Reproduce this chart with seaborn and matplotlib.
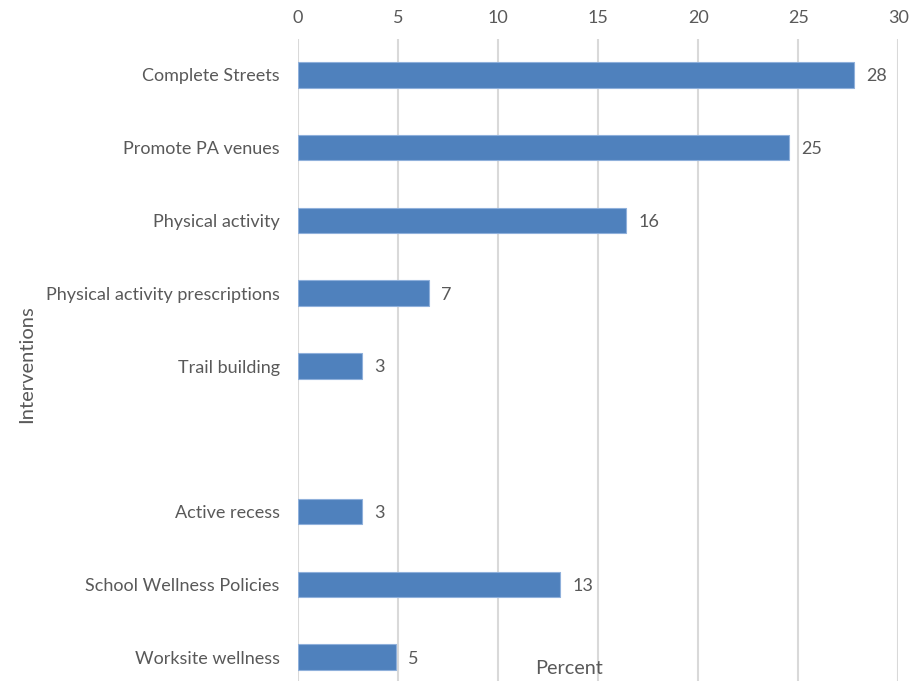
import matplotlib
matplotlib.use("Agg")
import matplotlib.pyplot as plt
import seaborn as sns
import pandas as pd
import numpy as np

# Interventions (blank slot separates community and school/work settings)
categories = [
    "Complete Streets",
    "Promote PA venues",
    "Physical activity",
    "Physical activity prescriptions",
    "Trail building",
    "",
    "Active recess",
    "School Wellness Policies",
    "Worksite wellness",
]
percent = [27.8, 24.55, 16.4, 6.55, 3.2, np.nan, 3.2, 13.1, 4.9]
x_ticks = [0, 5, 10, 15, 20, 25, 30]

sns.set_theme(style="white")
plt.rcParams["font.family"] = ["Lato", "DejaVu Sans"]

text_color = "#595959"
bar_color = "#4F81BD"
grid_color = "#D9D9D9"

df = pd.DataFrame({"Intervention": categories, "Percent": percent})

fig = plt.figure(figsize=(9.24, 6.81), dpi=100)
ax = fig.add_axes([297.7 / 924, 1 - 693.5 / 681, (898.4 - 297.7) / 924, (693.5 - 38.5) / 681])

sns.barplot(
    data=df.dropna(), x="Percent", y="Intervention", order=categories,
    color=bar_color, saturation=1, width=0.35, orient="h",
    edgecolor="#8FB0DB", linewidth=0.8, ax=ax, zorder=3,
)

ax.set_xlim(0, 30)
ax.set_ylim(len(categories) - 0.5, -0.5)
ax.set_xticks(x_ticks)
ax.xaxis.tick_top()
ax.tick_params(axis="x", which="both", top=False, bottom=False,
               labeltop=True, labelbottom=False,
               length=0, pad=9, labelsize=13, labelcolor=text_color)
ax.tick_params(axis="y", length=0, pad=13, labelsize=13, labelcolor=text_color)
ax.grid(axis="x", color=grid_color, linewidth=1.5, zorder=0)
ax.grid(axis="y", visible=False)
for s in ax.spines.values():
    s.set_visible(False)
ax.set_xlabel("")
ax.set_ylabel("")

for i, v in enumerate(percent):
    if not np.isnan(v):
        ax.text(v + 0.6, i, f"{v:.0f}", va="center_baseline", ha="left",
                fontsize=13, color=text_color)

fig.text(569 / 924, 1 - 669 / 681, "Percent", ha="center", va="center",
         fontsize=14.3, color=text_color)
fig.text(27 / 924, 1 - 364 / 681, "Interventions", ha="center", va="center",
         rotation=90, fontsize=14.5, color=text_color)

fig.savefig("out.png", dpi=100)
